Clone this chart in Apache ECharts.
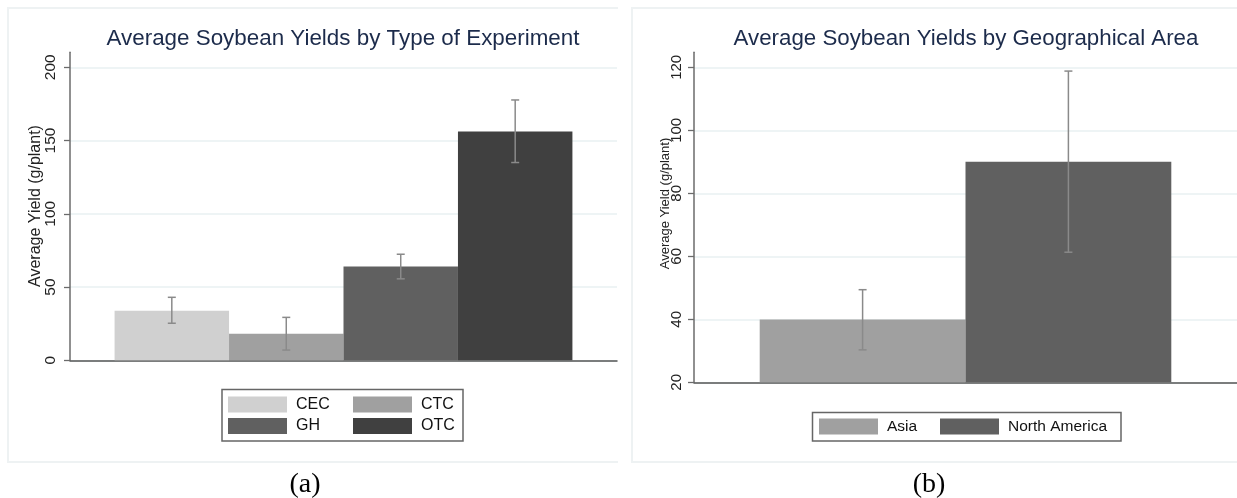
<!DOCTYPE html>
<html>
<head>
<meta charset="utf-8">
<script src="https://cdn.jsdelivr.net/npm/echarts@6/dist/echarts.min.js"></script>
<style>
html,body{margin:0;padding:0;background:#fff;}
#c{width:1237px;height:498px;}
</style>
</head>
<body>
<div id="c"></div>
<script>
// ---- data ----
const typeCats = ['CEC', 'CTC', 'GH', 'OTC'];
const typeMeans = [33.9, 18.2, 64.0, 156.2];
const typeLow = [25.3, 7.0, 55.6, 135.0];
const typeHigh = [43.0, 29.3, 72.4, 177.7];
const typeColors = ['#d0d0d0', '#a0a0a0', '#606060', '#404040'];
const typeTicks = [0, 50, 100, 150, 200];

const geoCats = ['Asia', 'North America'];
const geoMeans = [39.9, 90.0];
const geoLow = [30.3, 61.3];
const geoHigh = [49.4, 118.8];
const geoColors = ['#a0a0a0', '#606060'];
const geoTicks = [20, 40, 60, 80, 100, 120];

const FONT = 'Liberation Sans, Arial, sans-serif';
const chart = echarts.init(document.getElementById('c'), null, {renderer: 'canvas'});

function errRender(n, gap) {
  return function (params, api) {
    const idx = api.value(3);
    const lo = api.coord([0, api.value(1)]);
    const hi = api.coord([0, api.value(2)]);
    const band = api.size([1, 0])[0];
    const bw = band * (1 - gap) / n;
    const x = lo[0] + (idx - (n - 1) / 2) * bw;
    const st = {stroke: '#8a8a8a', lineWidth: 1.5};
    return {type: 'group', children: [
      {type: 'line', shape: {x1: x, y1: lo[1], x2: x, y2: hi[1]}, style: st},
      {type: 'line', shape: {x1: x - 4, y1: lo[1], x2: x + 4, y2: lo[1]}, style: st},
      {type: 'line', shape: {x1: x - 4, y1: hi[1], x2: x + 4, y2: hi[1]}, style: st}
    ]};
  };
}

const gapA = 0.163, gapB = 0.242;

const series = [];
typeCats.forEach((c, i) => {
  series.push({name: c, type: 'bar', xAxisIndex: 0, yAxisIndex: 0, data: [typeMeans[i]],
    itemStyle: {color: typeColors[i]}, barGap: '0%', barCategoryGap: (gapA * 100) + '%', silent: true});
});
geoCats.forEach((c, i) => {
  series.push({name: c, type: 'bar', xAxisIndex: 2, yAxisIndex: 2, data: [geoMeans[i]],
    itemStyle: {color: geoColors[i]}, barGap: '0%', barCategoryGap: (gapB * 100) + '%', silent: true});
});
series.push({type: 'custom', xAxisIndex: 0, yAxisIndex: 0, renderItem: errRender(typeCats.length, gapA),
  encode: {x: 0, y: [1, 2]}, z: 5, silent: true,
  data: typeCats.map((c, i) => [0, typeLow[i], typeHigh[i], i])});
series.push({type: 'custom', xAxisIndex: 2, yAxisIndex: 2, renderItem: errRender(geoCats.length, gapB),
  encode: {x: 0, y: [1, 2]}, z: 5, silent: true,
  data: geoCats.map((c, i) => [0, geoLow[i], geoHigh[i], i])});

function mainY(gridIndex, ticks, fs, margin) {
  const step = ticks[1] - ticks[0];
  return {type: 'value', gridIndex: gridIndex, min: ticks[0], max: ticks[ticks.length - 1], interval: step,
    axisLine: {show: false},
    axisTick: {show: true, length: 6, lineStyle: {color: '#6b6b6b', width: 1.3}},
    axisLabel: {rotate: 90, fontSize: fs, color: '#222', fontFamily: FONT, margin: margin},
    splitLine: {show: true, lineStyle: {color: '#e9f1f2', width: 1.5}}};
}
function bgY(gridIndex, min, max) {
  return {type: 'value', gridIndex: gridIndex, min: min, max: max,
    axisLine: {show: true, lineStyle: {color: '#6b6b6b', width: 1.5}},
    axisTick: {show: false}, axisLabel: {show: false}, splitLine: {show: false}};
}
function mainX(gridIndex) {
  return {type: 'category', gridIndex: gridIndex, data: [''],
    axisLine: {show: true, lineStyle: {color: '#555', width: 1.5}},
    axisTick: {show: false}, axisLabel: {show: false}, splitLine: {show: false}};
}
function bgX(gridIndex) {
  return {type: 'category', gridIndex: gridIndex, data: [''], show: false};
}

function legend(names, left, top, textW, fs) {
  return {data: names, left: left, top: top, orient: 'horizontal', padding: 0, itemGap: 10,
    itemWidth: 59, itemHeight: 16, icon: 'rect', selectedMode: false,
    textStyle: {fontSize: fs, color: '#111', fontFamily: FONT, width: textW, lineHeight: 16, padding: [0, 0, 0, 4]}};
}

chart.setOption({
  animation: false,
  backgroundColor: '#fff',
  title: [
    {text: 'Average Soybean Yields by Type of Experiment', left: 338, top: 23, textAlign: 'center',
      textStyle: {fontSize: 22.4, fontWeight: 'normal', color: '#1c2b4b', fontFamily: FONT}},
    {text: 'Average Soybean Yields by Geographical Area', left: 961, top: 23, textAlign: 'center',
      textStyle: {fontSize: 22.3, fontWeight: 'normal', color: '#1c2b4b', fontFamily: FONT}}
  ],
  grid: [
    {left: 70, right: 620, top: 67.3, bottom: 498 - 360.3},
    {left: 70, right: 620, top: 52.3, bottom: 498 - 360.3},
    {left: 694, right: 0, top: 67.3, bottom: 498 - 382.3},
    {left: 694, right: 0, top: 52.3, bottom: 498 - 382.3}
  ],
  xAxis: [mainX(0), bgX(1), mainX(2), bgX(3)],
  yAxis: [
    mainY(0, typeTicks, 15.5, 11),
    bgY(1, 0, 200 * (360.3 - 52.3) / (360.3 - 67.3)),
    mainY(2, geoTicks, 15, 10),
    bgY(3, 20, 20 + 100 * (382.3 - 52.3) / (382.3 - 67.3))
  ],
  legend: [
    legend(['CEC', 'CTC'], 228, 396.5, 47, 16),
    legend(['GH', 'OTC'], 228, 418, 47, 16),
    legend(geoCats, 819, 418.5, 43, 15.5)
  ],
  graphic: [
    {type: 'polyline', shape: {points: [[618, 8], [8, 8], [8, 462], [618, 462]]}, style: {fill: null, stroke: '#eef2f3', lineWidth: 2}, silent: true},
    {type: 'polyline', shape: {points: [[1237, 8], [632, 8], [632, 462], [1237, 462]]}, style: {fill: null, stroke: '#eef2f3', lineWidth: 2}, silent: true},
    {type: 'rect', shape: {x: 222, y: 389.5, width: 241, height: 51.5}, style: {fill: null, stroke: '#666', lineWidth: 1.5}, silent: true},
    {type: 'rect', shape: {x: 812.5, y: 412.5, width: 308.5, height: 28.5}, style: {fill: null, stroke: '#666', lineWidth: 1.5}, silent: true},
    {type: 'text', x: 36, y: 206, rotation: Math.PI / 2, silent: true,
      style: {text: 'Average Yield (g/plant)', fontSize: 16, fill: '#222', fontFamily: FONT, textAlign: 'center', textVerticalAlign: 'middle'}},
    {type: 'text', x: 665, y: 203.5, rotation: Math.PI / 2, silent: true,
      style: {text: 'Average Yield (g/plant)', fontSize: 13, fill: '#222', fontFamily: FONT, textAlign: 'center', textVerticalAlign: 'middle'}},
    {type: 'text', x: 305, y: 485, silent: true,
      style: {text: '(a)', fontSize: 28, fill: '#000', fontFamily: 'Liberation Serif, Times New Roman, serif', textAlign: 'center', textVerticalAlign: 'middle'}},
    {type: 'text', x: 929, y: 485, silent: true,
      style: {text: '(b)', fontSize: 28, fill: '#000', fontFamily: 'Liberation Serif, Times New Roman, serif', textAlign: 'center', textVerticalAlign: 'middle'}}
  ],
  series: series
});
</script>
</body>
</html>
